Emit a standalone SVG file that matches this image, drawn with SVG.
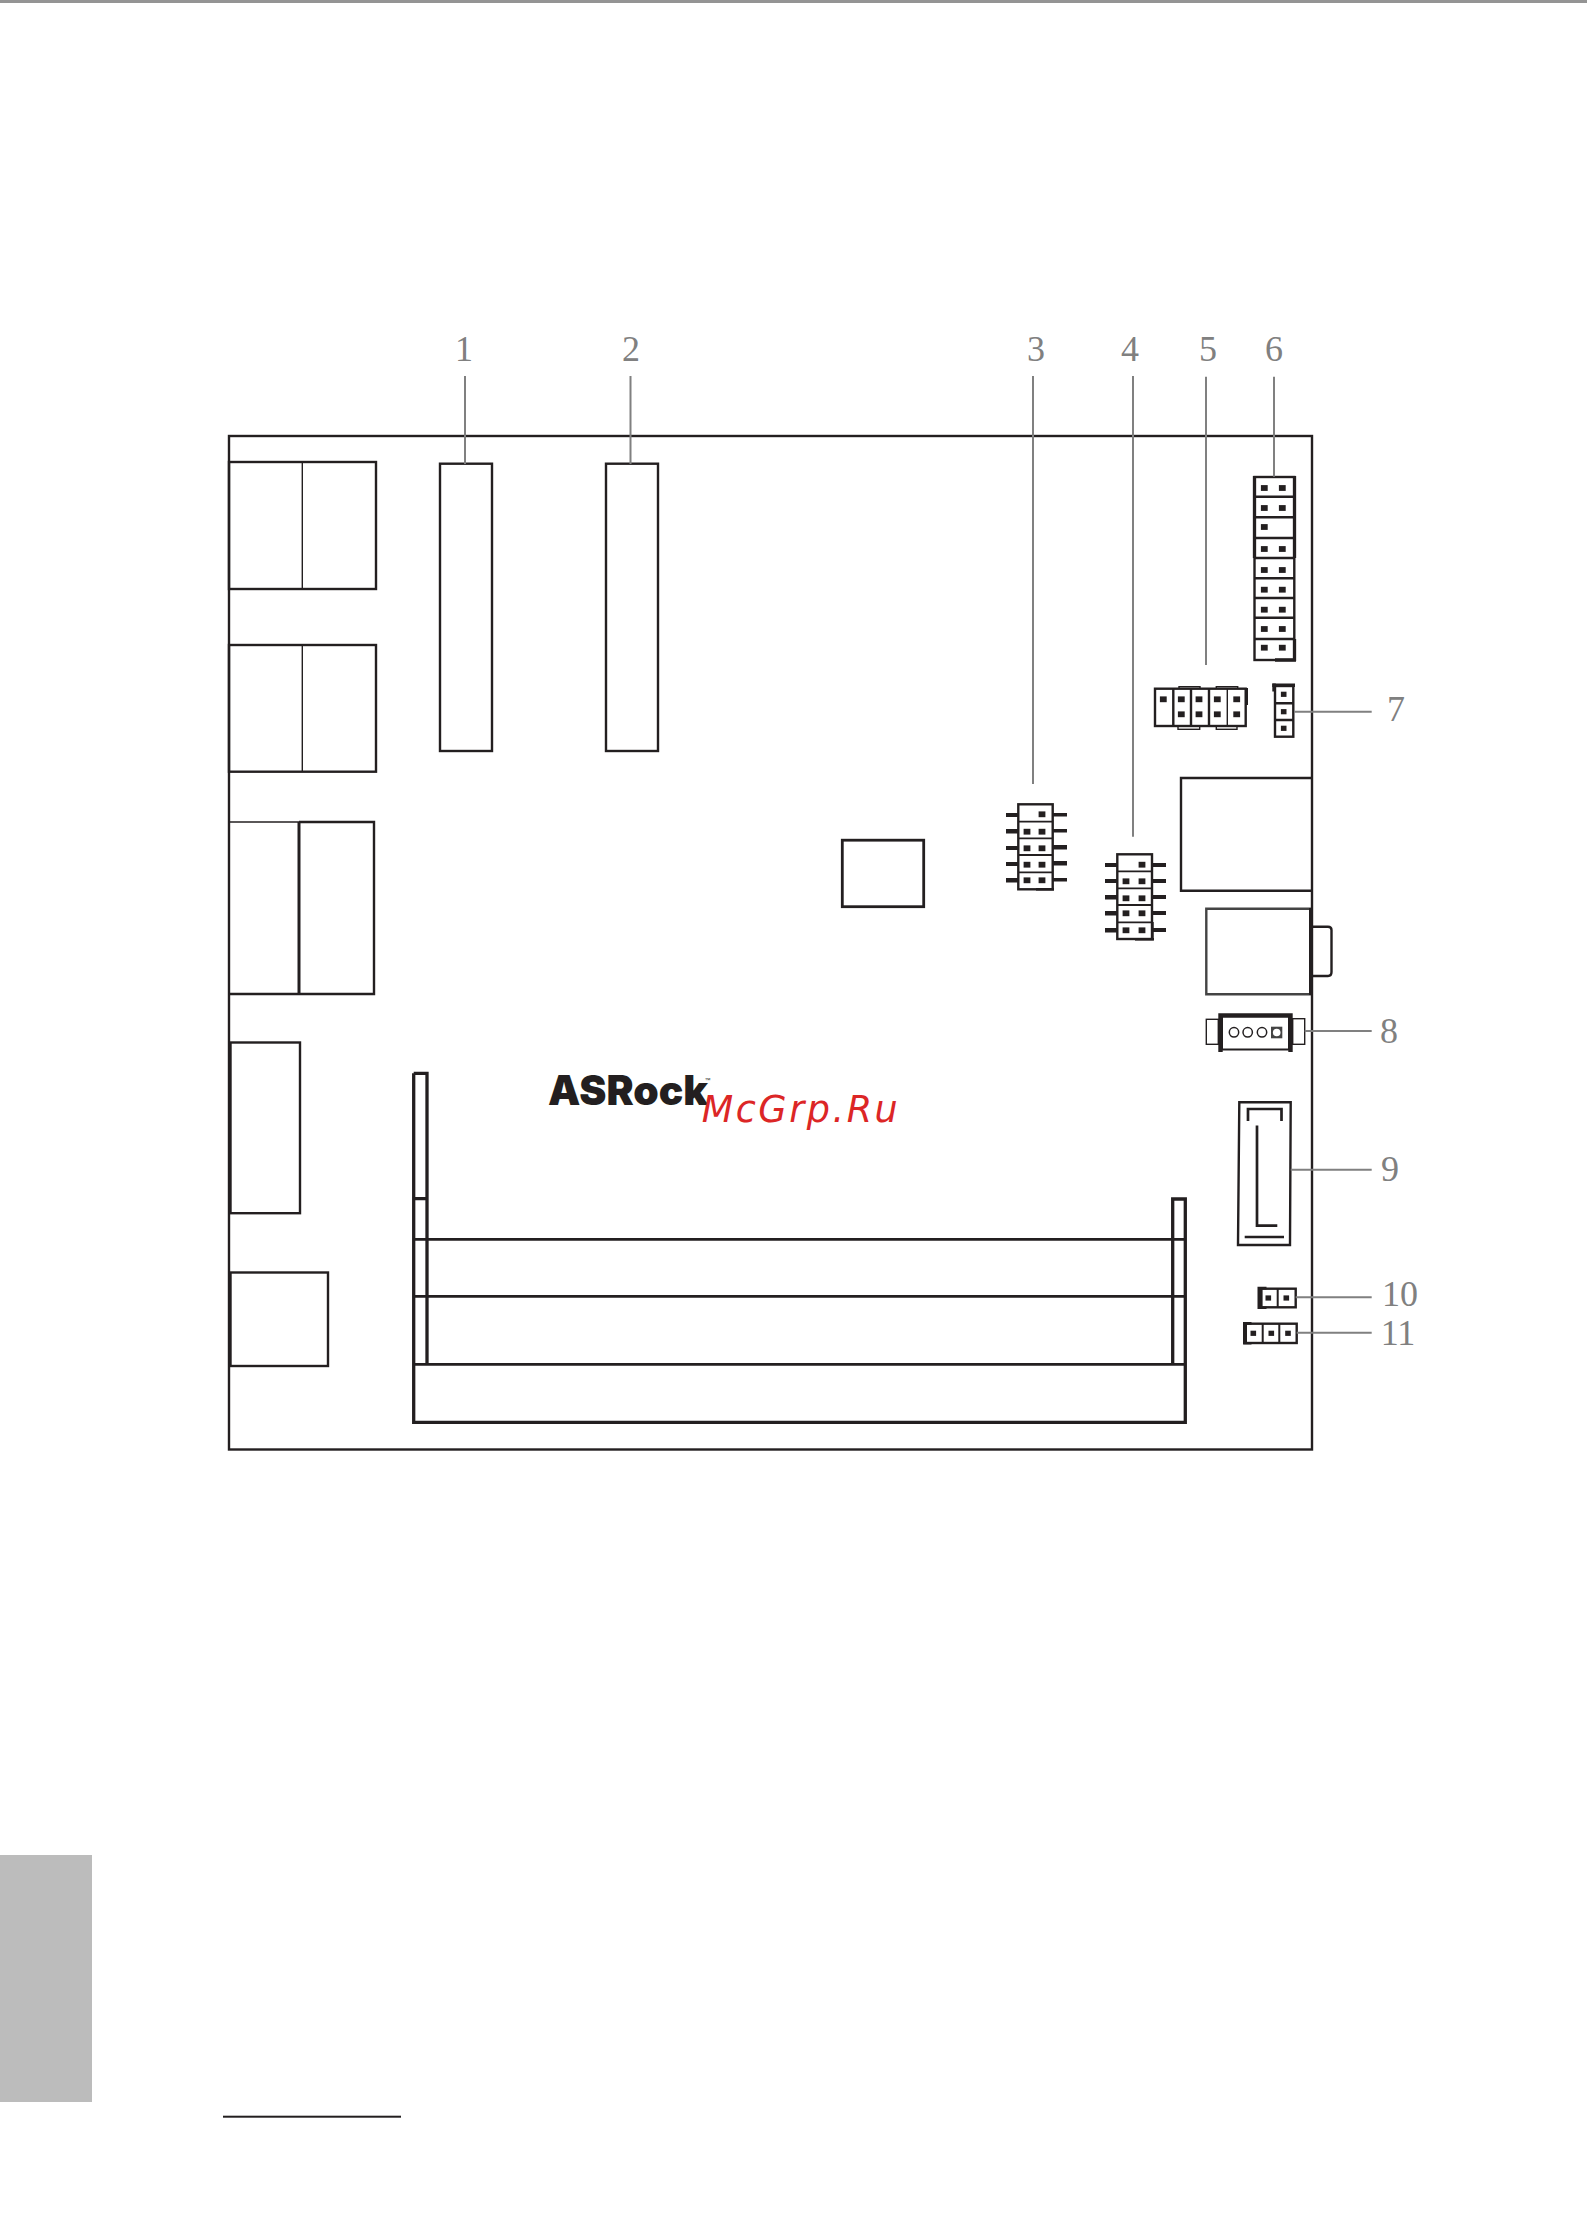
<svg xmlns="http://www.w3.org/2000/svg" width="1587" height="2214" viewBox="0 0 1587 2214">
<style>
.b{fill:none;stroke:#231f20;stroke-width:2.4}
.t{fill:none;stroke:#231f20;stroke-width:1.4}
.k{fill:none;stroke:#231f20;stroke-width:3.3}
.w{fill:#fff;stroke:#231f20;stroke-width:2.4}
.p{fill:#231f20}
.l{fill:none;stroke:#808080;stroke-width:2}
.n{font-family:"Liberation Serif",serif;font-size:36px;fill:#808080;text-anchor:middle}
</style>
<defs>
<rect id="pin" x="-3.4" y="-2.9" width="6.8" height="5.8" class="p"/>
<rect id="pins" x="-2.8" y="-2.6" width="5.6" height="5.2" class="p"/>
</defs>
<rect width="1587" height="2214" fill="#fff"/>
<rect id="top-edge" x="0" y="0" width="1587" height="3" fill="#949494"/>
<rect id="side-tab" x="0" y="1855" width="92" height="247" fill="#bcbcbc"/>
<rect id="foot-rule" x="223" y="2115.7" width="178" height="2" fill="#231f20"/>
<g id="board"><rect class="b" x="229" y="436" width="1083" height="1013.5"/></g>
<g id="usb-1"><rect class="b" x="229" y="462" width="147" height="127"/><line class="t" x1="302.3" y1="462" x2="302.3" y2="589"/></g>
<g id="usb-2"><rect class="b" x="229" y="645" width="147" height="126.7"/><line class="t" x1="302.3" y1="645" x2="302.3" y2="771.7"/></g>
<g id="port-c"><path class="b" d="M299 822H374V994H229"/><line x1="299" y1="822" x2="299" y2="994" stroke="#231f20" stroke-width="3"/><line x1="229" y1="822" x2="299" y2="822" stroke="#231f20" stroke-width="1.600"/></g>
<g id="port-d"><rect class="b" x="230.500" y="1042.500" width="69.500" height="170.700"/></g>
<g id="port-e"><rect class="b" x="230.500" y="1272.500" width="97.500" height="93.500"/></g>
<g id="slot-1"><rect class="b" x="440" y="463.7" width="52" height="287.3"/></g>
<g id="slot-2"><rect class="b" x="606" y="463.7" width="52" height="287.3"/></g>
<g id="chip"><rect fill="none" stroke="#231f20" stroke-width="2.800" x="842.300" y="840.200" width="81.400" height="66.500"/></g>
<g id="hdr-3">
<path class="p" d="M1006 813h13v4h-13zM1006 829h13v4.500h-13zM1006 846h13v4h-13zM1006 862h13v4h-13zM1006 878h13v4.500h-13zM1053 813h14v3.500h-14zM1053 829h14v3.500h-14zM1053 845h14v4.500h-14zM1053 861h14v4.500h-14zM1053 878h14v3.500h-14z"/>
<rect class="w" x="1018.300" y="804.300" width="34.400" height="85"/>
<path class="t" d="M1018 821.700h35M1018 838.300h35M1018 855h35M1018 872.300h35" style="stroke-width:1.800"/>
<rect class="p" x="1036" y="888" width="18" height="2.600"/>
<use href="#pin" x="1042" y="814.300"/><use href="#pin" x="1027" y="831.700"/><use href="#pin" x="1042" y="831.700"/><use href="#pin" x="1027" y="848.300"/><use href="#pin" x="1042" y="848.300"/><use href="#pin" x="1027" y="864.700"/><use href="#pin" x="1042" y="864.700"/><use href="#pin" x="1027" y="880.300"/><use href="#pin" x="1042" y="880.300"/>
</g>
<g id="hdr-4">
<path class="p" d="M1105 863h13v4h-13zM1105 879h13v4h-13zM1105 895h13v4.500h-13zM1105 911h13v4.500h-13zM1105 928h13v4.500h-13zM1152 863h14v4h-14zM1152 879h14v4h-14zM1152 895h14v4h-14zM1152 911h14v4h-14zM1152 928h14v4h-14z"/>
<rect class="w" x="1117.300" y="854.300" width="34.700" height="84.700"/>
<path class="t" d="M1117 871.300h35M1117 888.300h35M1117 905h35M1117 922.300h35" style="stroke-width:1.800"/>
<rect class="p" x="1135" y="938" width="19" height="2.600"/><rect class="p" x="1151.500" y="922" width="2.200" height="18"/>
<use href="#pin" x="1142" y="864.700"/><use href="#pin" x="1126" y="881.300"/><use href="#pin" x="1142" y="881.300"/><use href="#pin" x="1126" y="898.300"/><use href="#pin" x="1142" y="898.300"/><use href="#pin" x="1126" y="913.300"/><use href="#pin" x="1142" y="913.300"/><use href="#pin" x="1126" y="930.300"/><use href="#pin" x="1142" y="930.300"/>
</g>
<g id="hdr-5">
<rect class="t" x="1179" y="686.700" width="21" height="5"/><rect class="t" x="1216.300" y="686.700" width="21.400" height="5"/><rect class="t" x="1178" y="724" width="21.700" height="5.300"/><rect class="t" x="1216.300" y="724" width="20.700" height="5.300"/>
<rect class="w" x="1155" y="688.700" width="90.700" height="37.300"/>
<path class="b" d="M1173.300 689V726M1191 689V726M1209 689V726"/><line class="t" x1="1227.300" y1="689" x2="1227.300" y2="726"/>
<rect class="p" x="1245.500" y="688" width="2.500" height="17"/>
<use href="#pin" x="1163.300" y="699.300"/><use href="#pin" x="1181.300" y="699.300"/><use href="#pin" x="1199" y="699.300"/><use href="#pin" x="1217.300" y="699.300"/><use href="#pin" x="1236.700" y="699.300"/>
<use href="#pin" x="1181.300" y="714.300"/><use href="#pin" x="1199" y="714.300"/><use href="#pin" x="1217.300" y="714.300"/><use href="#pin" x="1236.700" y="714.300"/>
</g>
<g id="hdr-6">
<rect class="w" x="1254.500" y="477" width="39.800" height="183"/>
<path class="b" d="M1254 496.700h40M1254 517.300h40M1254 538h40M1254 558h40M1254 578.300h40M1254 598h40M1254 617.700h40M1254 639h40"/>
<path class="k" d="M1254.500 476V558M1294.500 476V558M1275 660h21M1294.500 639V661"/>
<g><use href="#pin" x="1264.300" y="488"/><use href="#pin" x="1282.300" y="488"/><use href="#pin" x="1264.300" y="508"/><use href="#pin" x="1282.300" y="508"/><use href="#pin" x="1264.300" y="527"/><use href="#pin" x="1264.300" y="549"/><use href="#pin" x="1282.300" y="549"/><use href="#pin" x="1264.300" y="570"/><use href="#pin" x="1282.300" y="570"/><use href="#pin" x="1264.300" y="589.700"/><use href="#pin" x="1282.300" y="589.700"/><use href="#pin" x="1264.300" y="609.700"/><use href="#pin" x="1282.300" y="609.700"/><use href="#pin" x="1264.300" y="629"/><use href="#pin" x="1282.300" y="629"/><use href="#pin" x="1264.300" y="647.700"/><use href="#pin" x="1282.300" y="647.700"/></g>
</g>
<g id="hdr-7">
<rect class="w" x="1275" y="686" width="18.300" height="50.700"/>
<path class="b" d="M1275 703.300h18M1275 720h18"/>
<rect class="p" x="1272.300" y="683.500" width="22.700" height="3.500"/><rect class="p" x="1272.300" y="683.500" width="3.500" height="8"/>
<use href="#pins" x="1283.700" y="694.300"/><use href="#pins" x="1283.700" y="711.700"/><use href="#pins" x="1283.700" y="728.300"/>
</g>
<g id="lan"><path class="b" d="M1312 778H1181V890.700H1312"/></g>
<g id="jack">
<path class="b" d="M1311 908.700H1206.300V994.300H1311" style="stroke:#444"/>
<path class="b" d="M1312 926.700H1328Q1331.500 926.700 1331.500 930V972Q1331.500 976 1328 976H1312"/>
<line x1="1310.500" y1="908" x2="1310.500" y2="995" stroke="#231f20" stroke-width="3"/>
</g>
<g id="hdr-8">
<rect class="t" x="1206.300" y="1019.300" width="12" height="25"/><rect class="t" x="1292.700" y="1018.700" width="12" height="25.600"/>
<rect fill="#fff" stroke="#231f20" stroke-width="2" x="1222" y="1016" width="67" height="33.500"/>
<path class="p" d="M1218.300 1013.300H1292.700V1052H1288.300V1017.700H1222.700V1052H1218.300z"/>
<circle class="t" cx="1234" cy="1032.300" r="4.700" style="stroke-width:1.500"/><circle class="t" cx="1247.700" cy="1032.300" r="4.700" style="stroke-width:1.500"/><circle class="t" cx="1262" cy="1032.300" r="4.700" style="stroke-width:1.500"/>
<rect x="1271" y="1026.700" width="11.300" height="11.600" fill="#444"/><circle cx="1276.700" cy="1032.500" r="3.800" fill="#fff"/>
</g>
<g id="sata">
<path class="b" d="M1239.300 1102.300H1290.700L1290 1245H1238z"/>
<path class="k" style="stroke-width:2.700" d="M1248 1121V1109H1281.500V1121"/>
<path class="k" style="stroke-width:2.700" d="M1257 1125.500V1225.700H1277.300"/>
<line class="k" style="stroke-width:2.700" x1="1244.700" y1="1237" x2="1284" y2="1237"/>
</g>
<g id="hdr-10">
<rect class="b" x="1261" y="1288.700" width="34.700" height="18.600"/><line class="t" x1="1277.700" y1="1289" x2="1277.700" y2="1307" style="stroke-width:2"/>
<path class="p" d="M1257.500 1286.700H1266.500V1289.500H1262.500V1306.500H1266.500V1309H1257.500z"/>
<use href="#pins" x="1268.300" y="1298"/><use href="#pins" x="1286.300" y="1298"/>
</g>
<g id="hdr-11">
<rect class="b" x="1245" y="1323.700" width="51.700" height="19.300"/><path class="t" d="M1262.700 1324V1343M1279.300 1324V1343" style="stroke-width:2"/>
<path class="p" d="M1243 1322H1251.500V1324.700H1247V1342H1251.500V1344.500H1243z"/>
<use href="#pins" x="1253.300" y="1333.300"/><use href="#pins" x="1271.300" y="1333.300"/><use href="#pins" x="1288" y="1333.300"/>
</g>
<g id="sodimm">
<path class="k" d="M413.700 1073.300H427V1364.300M413.700 1073.300V1422.300H1185.300V1199H1172.700V1364M413.700 1198.700H427"/>
<path class="k" d="M413.700 1239.300H1185.300M413.700 1296.300H1185.300M413.700 1364.300H1185.300" style="stroke-width:2.700"/>
</g>
<g id="logo">
<text x="548" y="1105" font-family="Inter,'Liberation Sans',sans-serif" font-weight="900" font-size="41" textLength="160" lengthAdjust="spacingAndGlyphs" fill="#231f20">ASRock</text>
<text x="704.500" y="1082" font-family="'Liberation Sans',sans-serif" font-size="6" fill="#231f20">™</text>
</g>
<text id="watermark" x="701.700" y="1121.700" font-family="'DejaVu Sans',sans-serif" font-style="oblique" font-size="36.500" textLength="196" fill="#dc2626">McGrp.Ru</text>
<g id="connectors">
<path class="l" d="M465 376V464M630.500 376V464M1033 376V784M1133 376V836.700M1206 376.700V665M1274 376.700V476.700M1294 711.700H1371.700M1304.700 1031H1371.700M1290.700 1169.700H1371.700M1295.700 1297.300H1371.700M1296.700 1332.700H1371.700"/>
</g>
<g id="labels">
<text class="n" x="464" y="360.500">1</text><text class="n" x="631" y="360.500">2</text><text class="n" x="1036" y="360.500">3</text><text class="n" x="1130" y="360.500">4</text><text class="n" x="1208" y="360.500">5</text><text class="n" x="1274" y="360.500">6</text>
<text class="n" x="1396" y="721">7</text><text class="n" x="1389" y="1042.500">8</text><text class="n" x="1390" y="1181">9</text><text class="n" x="1400" y="1306">10</text><text class="n" x="1398" y="1344.500">11</text>
</g>
</svg>
